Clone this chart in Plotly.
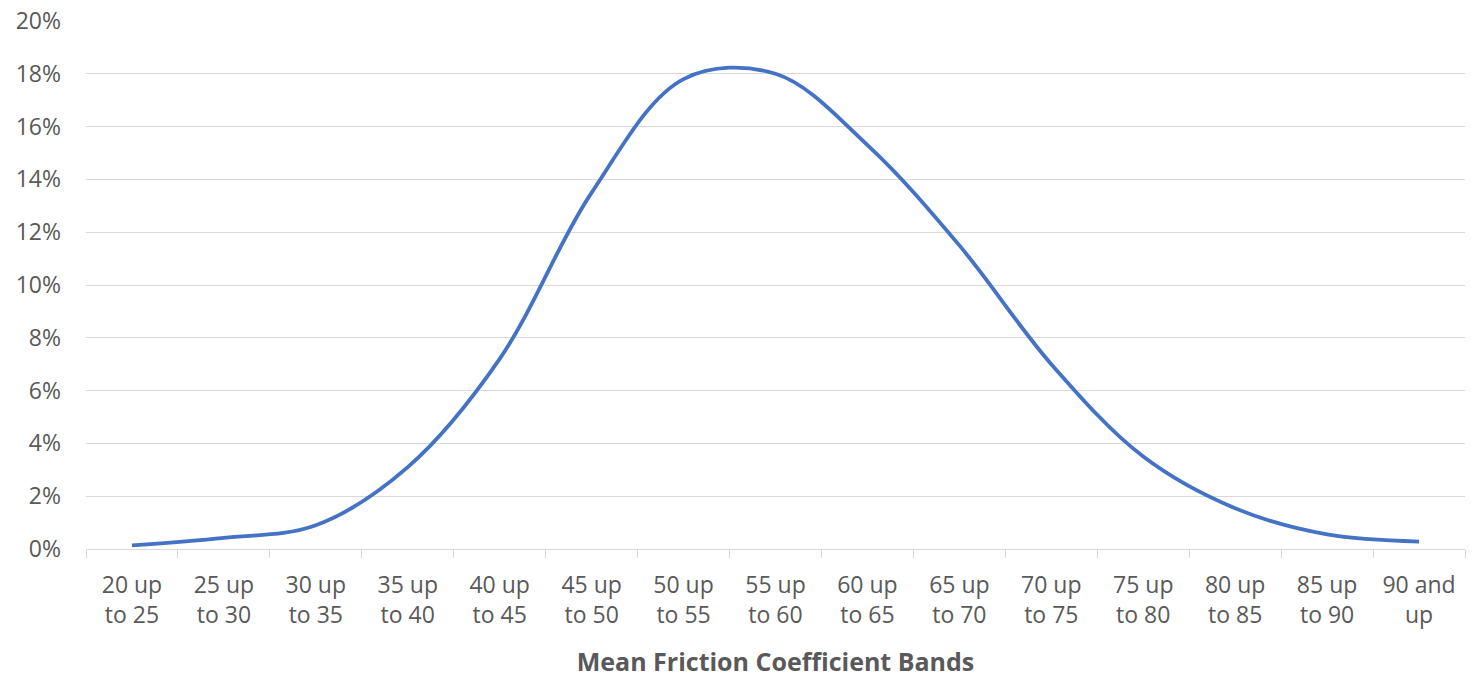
import plotly.graph_objects as go

categories = ["20 up<br>to 25", "25 up<br>to 30", "30 up<br>to 35", "35 up<br>to 40", "40 up<br>to 45",
              "45 up<br>to 50", "50 up<br>to 55", "55 up<br>to 60", "60 up<br>to 65", "65 up<br>to 70",
              "70 up<br>to 75", "75 up<br>to 80", "80 up<br>to 85", "85 up<br>to 90", "90 and<br>up"]
share = [0.0014, 0.0042, 0.009, 0.031, 0.072, 0.135, 0.178, 0.180, 0.153, 0.115,
         0.070, 0.035, 0.0154, 0.0055, 0.0028]
x_title = "Mean Friction Coefficient Bands"

GRID = "#d9d9d9"
TXT = "#595959"
FONT = "Open Sans"

fig = go.Figure(go.Scatter(
    x=categories, y=share, mode="lines",
    line=dict(color="#4472C4", width=3.8, shape="spline", smoothing=1.0),
    hoverinfo="skip", showlegend=False,
))

fig.update_layout(
    width=1472, height=678,
    margin=dict(l=86, r=7, t=21, b=129),
    paper_bgcolor="white", plot_bgcolor="white",
    font=dict(family=FONT, color=TXT, size=23),
)
fig.update_xaxes(
    type="category", tickson="boundaries", ticks="outside", ticklen=8, tickcolor=GRID, tickwidth=1,
    showline=True, linecolor=GRID, linewidth=1, showgrid=False, zeroline=False,
    tickfont=dict(family=FONT, size=23, color=TXT), ticklabelstandoff=15,
    title=dict(text="<b>" + x_title + "</b>", font=dict(family=FONT, size=25, color=TXT), standoff=28),
    range=[-0.5, 14.5], automargin=False,
)
fig.update_yaxes(
    range=[0, 0.2], dtick=0.02, tickformat=".0%", showgrid=True, gridcolor=GRID, gridwidth=1,
    zeroline=False, showline=False, ticks="",
    tickfont=dict(family=FONT, size=23, color=TXT), ticklabelstandoff=24, automargin=False,
)

fig.write_html("out.html")
